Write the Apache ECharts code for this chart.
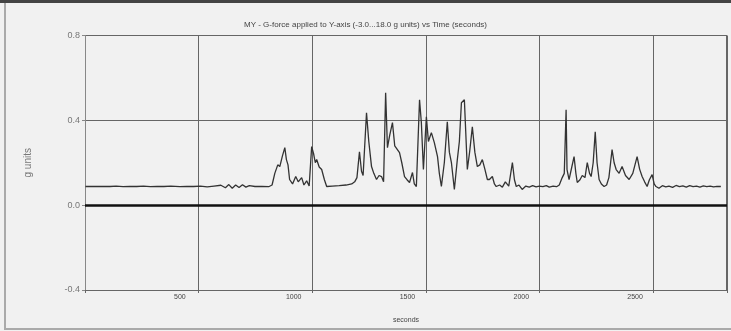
<!DOCTYPE html>
<html><head><meta charset="utf-8">
<script src="https://cdn.jsdelivr.net/npm/echarts@6/dist/echarts.min.js"></script>
<style>html,body{margin:0;padding:0;background:#f1f1f1;}#c{width:731px;height:331px;}</style>
</head><body><div id="c"></div>
<script>
var titleText = "MY - G-force applied to Y-axis (-3.0...18.0 g units) vs Time (seconds)";
var yTicks = [-0.4, 0.0, 0.4, 0.8];
var xTickLabels = [500, 1000, 1500, 2000, 2500];
var times = [85,193,220,250,280,310,340,370,400,430,460,500,530,560,590,620,650,680,700,715,730,745,760,775,790,805,830,860,890,905,917,930,939,950,961,968,975,982,995,1009,1020,1035,1045,1057,1068,1079,1088,1095,1101,1112,1123,1135,1145,1170,1200,1230,1255,1268,1278,1289,1298,1305,1320,1330,1342,1352,1364,1375,1386,1395,1404,1412,1422,1434,1444,1452,1465,1475,1487,1498,1509,1522,1530,1539,1553,1561,1570,1583,1592,1605,1618,1632,1640,1649,1662,1675,1684,1693,1706,1719,1728,1737,1750,1763,1773,1785,1796,1807,1818,1829,1840,1851,1860,1873,1882,1890,1905,1917,1930,1945,1961,1970,1978,1990,2004,2020,2035,2050,2065,2079,2095,2110,2123,2140,2155,2167,2180,2189,2197,2201,2210,2222,2232,2240,2246,2258,2268,2280,2290,2300,2307,2316,2325,2333,2342,2352,2364,2375,2385,2399,2408,2417,2430,2443,2458,2474,2490,2509,2520,2531,2542,2553,2563,2575,2584,2592,2605,2620,2635,2649,2665,2680,2695,2710,2725,2740,2755,2770,2785,2800,2815,2830,2845,2860,2877];
var gValues = [0.088,0.088,0.090,0.087,0.089,0.088,0.090,0.087,0.089,0.088,0.090,0.087,0.089,0.088,0.090,0.086,0.090,0.094,0.082,0.097,0.080,0.095,0.083,0.096,0.085,0.092,0.088,0.089,0.087,0.095,0.150,0.190,0.182,0.230,0.271,0.215,0.190,0.121,0.100,0.135,0.110,0.130,0.095,0.115,0.090,0.276,0.240,0.200,0.215,0.180,0.168,0.120,0.088,0.090,0.092,0.095,0.100,0.110,0.130,0.252,0.160,0.140,0.436,0.300,0.182,0.150,0.121,0.140,0.135,0.110,0.530,0.271,0.330,0.389,0.280,0.276,0.248,0.200,0.135,0.120,0.107,0.154,0.100,0.088,0.497,0.389,0.168,0.417,0.300,0.342,0.295,0.229,0.150,0.088,0.201,0.393,0.250,0.201,0.074,0.215,0.300,0.483,0.497,0.168,0.250,0.370,0.250,0.182,0.190,0.215,0.170,0.121,0.121,0.135,0.100,0.088,0.095,0.085,0.110,0.090,0.201,0.120,0.088,0.095,0.074,0.090,0.085,0.092,0.086,0.090,0.087,0.092,0.085,0.090,0.087,0.095,0.130,0.150,0.450,0.168,0.120,0.180,0.229,0.150,0.107,0.120,0.140,0.130,0.201,0.150,0.135,0.200,0.346,0.200,0.121,0.100,0.088,0.095,0.130,0.262,0.200,0.168,0.150,0.182,0.140,0.121,0.150,0.229,0.170,0.135,0.110,0.088,0.120,0.144,0.100,0.088,0.080,0.092,0.086,0.090,0.084,0.093,0.087,0.091,0.085,0.092,0.087,0.090,0.085,0.091,0.087,0.090,0.086,0.089,0.088];

var data = times.map(function(t, i){ return [t, gValues[i]]; });
var chart = echarts.init(document.getElementById('c'), null, {renderer:'canvas'});
var font = 'Liberation Sans, Arial, sans-serif';
chart.setOption({
  backgroundColor: '#f1f1f1',
  animation: false,
  title: { text: titleText, left: 'center', top: 16,
    textStyle: { fontSize: 8, fontWeight: 'normal', color: '#444', fontFamily: font } },
  grid: { left: 85, right: 4, top: 35.5, bottom: 41, show: false },
  xAxis: [{
    type: 'value', min: 83, max: 2904,
    name: 'seconds', nameLocation: 'middle', nameGap: 27,
    nameTextStyle: { fontSize: 7, color: '#444', fontFamily: font },
    axisLine: { show: false }, axisTick: { show: false }, splitLine: { show: false },
    axisLabel: { fontSize: 7, color: '#444', margin: 4, fontFamily: font,
      customValues: xTickLabels, formatter: function(v){ return String(v); } }
  }, {
    type: 'value', min: 0, max: 5.65, interval: 1, position: 'bottom',
    axisLine: { show: false }, axisLabel: { show: false },
    axisTick: { show: true, length: 3, lineStyle: { color: '#666' } },
    splitLine: { show: true, lineStyle: { color: '#666', width: 1 } }
  }],
  yAxis: {
    type: 'value', min: yTicks[0], max: yTicks[yTicks.length - 1], interval: 0.4,
    name: 'g units', nameLocation: 'middle', nameGap: 52, nameRotate: 90,
    nameTextStyle: { fontSize: 10, color: '#777', fontFamily: font },
    axisLine: { show: true, lineStyle: { color: '#888', width: 1 } },
    axisTick: { show: true, length: 3, lineStyle: { color: '#888' } },
    axisLabel: { fontSize: 9, color: '#777', margin: 5, fontFamily: font,
      formatter: function(v){ return v.toFixed(1); } },
    splitLine: { show: true, lineStyle: { color: '#666', width: 1 } }
  },
  series: [{
    type: 'line', data: data, xAxisIndex: 0, showSymbol: false,
    lineStyle: { color: '#333', width: 1.3 },
    markLine: { silent: true, symbol: 'none', label: { show: false },
      lineStyle: { color: '#111', width: 2.5, type: 'solid' },
      data: [{ yAxis: 0 }] }
  }],
  graphic: [
    { type: 'rect', shape: { x: 0, y: 0, width: 731, height: 3 }, style: { fill: '#444' } },
    { type: 'rect', shape: { x: 4, y: 3, width: 2, height: 326 }, style: { fill: '#aaa' } },
    { type: 'rect', shape: { x: 4, y: 328, width: 727, height: 2 }, style: { fill: '#aaa' } },
    { type: 'rect', shape: { x: 726, y: 35, width: 1, height: 255 }, style: { fill: '#666' } }
  ]
});
</script></body></html>
